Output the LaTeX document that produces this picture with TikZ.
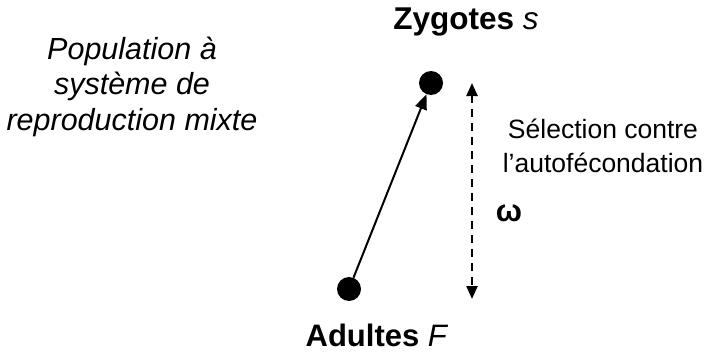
\documentclass[tikz,border=0pt]{standalone}
\usepackage{fontspec}
\setmainfont{Liberation Sans}
\usetikzlibrary{arrows.meta}
\begin{document}
\begin{tikzpicture}[x=1pt,y=-1pt,
  dot/.style={circle,fill=black,inner sep=0pt,minimum size=24pt},
  lbl/.style={inner sep=0pt,anchor=base},
  conn/.style={line width=2pt,-{Triangle[length=15pt,width=12pt]}},
  sel/.style={line width=2.4pt,dash pattern=on 8pt off 6pt,{Triangle[length=13pt,width=11pt]}-{Triangle[length=13pt,width=11pt]}}]
\useasboundingbox (0,0) rectangle (704,361);
\node[dot] (z) at (431,83) {};
\node[dot] (a) at (349,289) {};
\draw[conn] (a) -- (z);
\coordinate (st) at (472,83);
\coordinate (sb) at (472,299);
\draw[sel] (st) -- (sb);
\node[lbl,font=\fontsize{31.5}{36}\selectfont] (zl) at (466,30) {\textbf{Zygotes} \textit{s}};
\node[lbl,font=\fontsize{31}{36}\selectfont] (al) at (377,346) {\textbf{Adultes} \textit{F}};
\node[lbl,font=\fontsize{30.5}{35.5}\selectfont\itshape,align=center] (pop) at (132,130) {Population à\\système de\\reproduction mixte};
\node[lbl,font=\fontsize{26.5}{34}\selectfont,align=center] (sl) at (603,172) {Sélection contre\\l’autofécondation};
\node[lbl,font=\fontsize{31}{36}\selectfont\bfseries] (w) at (509,221) {ω};
\end{tikzpicture}
\end{document}
